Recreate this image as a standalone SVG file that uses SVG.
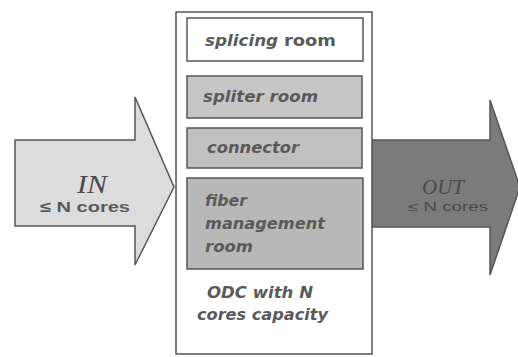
<svg xmlns="http://www.w3.org/2000/svg" width="518" height="357" viewBox="0 0 518 357">
<style>
.lbl{font-family:"DejaVu Sans","Liberation Sans",Arial,sans-serif;font-style:italic;font-weight:bold;fill:#5a5a5a;font-size:15px}
.inner{stroke:#555;stroke-width:1.5}
</style>
<rect width="518" height="357" fill="#ffffff"/>
<g id="out-arrow">
<polygon points="372,140 490,140 490,100 520,187 490,275 490,227 372,227" fill="#7b7b7b" stroke="#555" stroke-width="1.5"/>
<text x="422" y="194" font-family="Liberation Serif,serif" font-style="italic" font-size="22" fill="#4a4a4a" textLength="42" lengthAdjust="spacingAndGlyphs">OUT</text>
<text x="408" y="211" font-family="Liberation Sans,sans-serif" font-size="12" fill="#4a4a4a" textLength="80" lengthAdjust="spacingAndGlyphs">≤ N cores</text>
</g>
<g id="in-arrow">
<polygon points="15,140 135,140 135,97 174,187 135,265 135,226 15,226" fill="#dcdcdc" stroke="#555" stroke-width="1.5"/>
<text x="77" y="193" font-family="Liberation Serif,serif" font-style="italic" font-size="25" fill="#4a4a4a" textLength="30" lengthAdjust="spacingAndGlyphs">IN</text>
<text x="40" y="212" font-family="Liberation Sans,sans-serif" font-weight="bold" font-size="15" fill="#5a5a5a" textLength="90" lengthAdjust="spacingAndGlyphs">≤ N cores</text>
</g>
<g id="odc">
<rect x="176" y="12" width="196" height="342" fill="#ffffff" stroke="#555" stroke-width="1.5"/>
<text class="lbl" x="207" y="298" textLength="106" lengthAdjust="spacingAndGlyphs">ODC with N</text>
<text class="lbl" x="197" y="320" textLength="131" lengthAdjust="spacingAndGlyphs">cores capacity</text>
</g>
<g id="splicing-room">
<rect class="inner" x="187" y="18" width="176" height="43" fill="#ffffff"/>
<text class="lbl" x="205" y="46" textLength="131" lengthAdjust="spacingAndGlyphs">splicing <tspan font-style="normal" font-size="16">room</tspan></text>
</g>
<g id="spliter-room">
<rect class="inner" x="187" y="76" width="175" height="42" fill="#c6c6c6"/>
<text class="lbl" x="203" y="102" textLength="115" lengthAdjust="spacingAndGlyphs">spliter room</text>
</g>
<g id="connector">
<rect class="inner" x="187" y="128" width="175" height="40" fill="#c0c0c0"/>
<text class="lbl" x="207" y="153" textLength="92" lengthAdjust="spacingAndGlyphs">connector</text>
</g>
<g id="fiber-management-room">
<rect class="inner" x="187" y="178" width="176" height="91" fill="#b8b8b8"/>
<text class="lbl" x="205" y="206" textLength="42" lengthAdjust="spacingAndGlyphs">fiber</text>
<text class="lbl" x="205" y="229" textLength="120" lengthAdjust="spacingAndGlyphs">management</text>
<text class="lbl" x="205" y="252" textLength="48" lengthAdjust="spacingAndGlyphs">room</text>
</g>
<g id="connectors"></g>
</svg>
